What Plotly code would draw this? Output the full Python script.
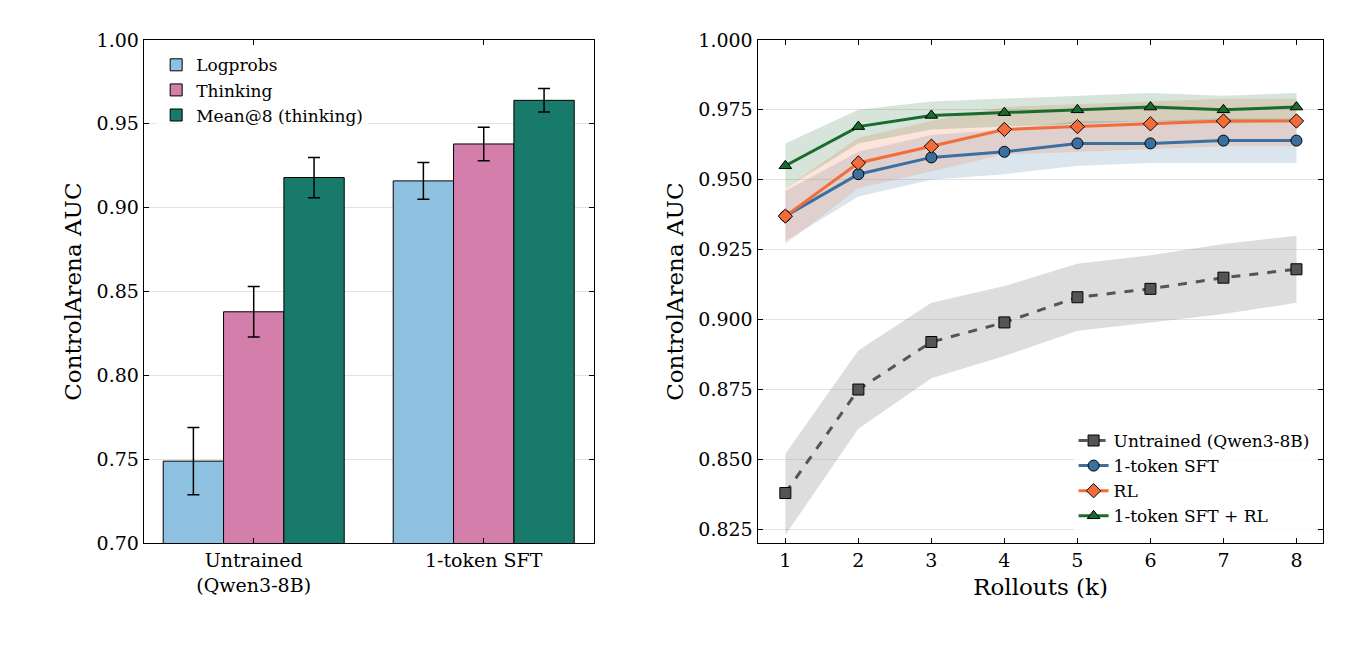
import plotly.graph_objects as go

groups = ["Untrained<br>(Qwen3-8B)", "1-token SFT"]
bar_names = ["Logprobs", "Thinking", "Mean@8 (thinking)"]
bar_vals = [[0.749, 0.916], [0.838, 0.938], [0.918, 0.964]]
bar_err = [[0.020, 0.011], [0.015, 0.010], [0.012, 0.007]]
bar_colors = ["#8ec1e0", "#d47fab", "#187a6a"]

k = [1, 2, 3, 4, 5, 6, 7, 8]
line_names = ["Untrained (Qwen3-8B)", "1-token SFT", "RL", "1-token SFT + RL"]
line_vals = [
    [0.838, 0.875, 0.892, 0.899, 0.908, 0.911, 0.915, 0.918],
    [0.937, 0.952, 0.958, 0.960, 0.963, 0.963, 0.964, 0.964],
    [0.937, 0.956, 0.962, 0.968, 0.969, 0.970, 0.971, 0.971],
    [0.955, 0.969, 0.973, 0.974, 0.975, 0.976, 0.975, 0.976],
]
line_lo = [
    [0.823, 0.861, 0.879, 0.887, 0.896, 0.899, 0.902, 0.906],
    [0.928, 0.944, 0.950, 0.952, 0.955, 0.956, 0.956, 0.956],
    [0.927, 0.947, 0.953, 0.959, 0.960, 0.961, 0.962, 0.962],
    [0.947, 0.963, 0.968, 0.969, 0.970, 0.971, 0.970, 0.971],
]
line_hi = [
    [0.852, 0.889, 0.906, 0.912, 0.920, 0.923, 0.927, 0.930],
    [0.946, 0.960, 0.966, 0.968, 0.971, 0.971, 0.972, 0.972],
    [0.947, 0.965, 0.971, 0.976, 0.977, 0.978, 0.979, 0.979],
    [0.963, 0.975, 0.978, 0.979, 0.980, 0.981, 0.980, 0.981],
]
line_colors = ["#555555", "#3a6fa0", "#f36d3a", "#1a6b2e"]
band_colors = ["rgba(120,120,120,0.25)", "rgba(58,111,160,0.18)", "rgba(243,109,58,0.18)", "rgba(26,107,46,0.18)"]
symbols = ["square", "circle", "diamond", "triangle-up"]
dashes = ["dash", "solid", "solid", "solid"]

fig = go.Figure()
for i in range(3):
    fig.add_trace(go.Bar(x=[0, 1], y=bar_vals[i], name=bar_names[i], marker_color=bar_colors[i],
                         marker_line=dict(color="black", width=1),
                         error_y=dict(type="data", array=bar_err[i], color="black", thickness=1.5, width=6),
                         xaxis="x", yaxis="y", legend="legend"))
for i in range(4):
    fig.add_trace(go.Scatter(x=k + k[::-1], y=line_hi[i] + line_lo[i][::-1], fill="toself", mode="lines",
                             fillcolor=band_colors[i], line=dict(width=0), showlegend=False,
                             hoverinfo="skip", xaxis="x2", yaxis="y2"))
for i in range(4):
    fig.add_trace(go.Scatter(x=k, y=line_vals[i], name=line_names[i], mode="lines+markers",
                             line=dict(color=line_colors[i], width=3, dash=dashes[i]),
                             marker=dict(symbol=symbols[i], size=11, color=line_colors[i],
                                         line=dict(color="black", width=1)),
                             xaxis="x2", yaxis="y2", legend="legend2"))

ax = dict(showline=True, linecolor="black", linewidth=1.2, mirror="ticks", ticks="inside",
          ticklen=5, tickcolor="black", zeroline=False)
fig.update_layout(
    width=1347, height=650, plot_bgcolor="white", paper_bgcolor="white",
    margin=dict(l=0, r=0, t=0, b=0), barmode="group", bargap=0.213, bargroupgap=0,
    font=dict(family="DejaVu Serif", size=19, color="black"),
    xaxis=dict(**ax, domain=[0.1008, 0.4348], range=[-0.478, 1.478], tickvals=[0, 1], ticktext=groups,
               showgrid=False, anchor="y"),
    yaxis=dict(**ax, domain=[0.165, 0.9667], range=[0.70, 1.00], dtick=0.05, tickformat=".2f",
               showgrid=True, gridcolor="#e3e3e3", title=dict(text="ControlArena AUC", standoff=8), anchor="x"),
    xaxis2=dict(**ax, domain=[0.5565, 0.9766], range=[0.62, 8.37], dtick=1, showgrid=False,
                title=dict(text="Rollouts (k)", standoff=8), anchor="y2"),
    yaxis2=dict(**ax, domain=[0.165, 0.9667], range=[0.820, 1.000], dtick=0.025, tickformat=".3f",
                showgrid=True, gridcolor="#e3e3e3", title=dict(text="ControlArena AUC", standoff=8), anchor="x2"),
    legend=dict(x=0.11, y=0.955, xanchor="left", yanchor="top", bgcolor="rgba(255,255,255,0.8)",
                font=dict(size=17)),
    legend2=dict(x=0.97, y=0.18, xanchor="right", yanchor="bottom", bgcolor="rgba(255,255,255,0.8)",
                 font=dict(size=17), tracegroupgap=0),
)
fig.write_html("out.html")
